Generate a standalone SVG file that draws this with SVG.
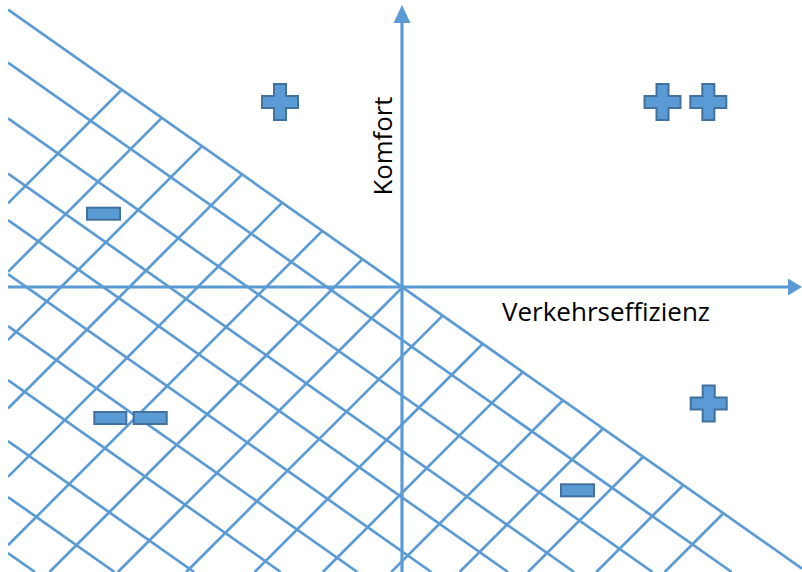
<svg xmlns="http://www.w3.org/2000/svg" width="802" height="572" viewBox="0 0 802 572">
  <style>
    .grid line { stroke: #5B9BD5; stroke-width: 2.7; stroke-linecap: butt; }
    .axis { stroke: #5B9BD5; stroke-width: 3.2; fill: none; }
    .head { fill: #5B9BD5; }
    .sym { fill: #5B9BD5; stroke: #41719C; stroke-width: 2; }
    .label { font-family: "Open Sans", "Liberation Sans", sans-serif; font-size: 26px; fill: #000; }
  </style>
  <defs>
    <path id="plus" d="M-6,-18 H6 V-6 H18 V6 H6 V18 H-6 V6 H-18 V-6 H-6 Z"/>
    <clipPath id="area"><rect x="8" y="0" width="794" height="572"/></clipPath>
  </defs>
  <rect width="802" height="572" fill="#fff"/>

  <!-- hatched region below the diagonal -->
  <g id="hatch" class="grid" clip-path="url(#area)">
    <!-- lines parallel to the boundary diagonal -->
    <line x1="8" y1="9.6" x2="802" y2="568.6"/>
    <line x1="8" y1="62.5" x2="731.7" y2="572"/>
    <line x1="8" y1="118.3" x2="652.5" y2="572"/>
    <line x1="8" y1="173.5" x2="574.1" y2="572"/>
    <line x1="8" y1="220" x2="508" y2="572"/>
    <line x1="8" y1="274" x2="431.3" y2="572"/>
    <line x1="8" y1="326" x2="357.4" y2="572"/>
    <line x1="8" y1="380" x2="280.7" y2="572"/>
    <line x1="8" y1="441" x2="194.1" y2="572"/>
    <line x1="8" y1="497" x2="114.5" y2="572"/>
    <line x1="8" y1="553" x2="35" y2="572"/>
    <!-- crossing lines, starting on the diagonal -->
    <line x1="121.7" y1="89.7" x2="8" y2="203.4"/>
    <line x1="161.8" y1="117.9" x2="8" y2="271.8"/>
    <line x1="202" y1="146.1" x2="8" y2="340.1"/>
    <line x1="242.1" y1="174.4" x2="8" y2="408.5"/>
    <line x1="282.2" y1="202.6" x2="8" y2="476.8"/>
    <line x1="322.3" y1="230.9" x2="8" y2="545.2"/>
    <line x1="362.4" y1="259.1" x2="49.5" y2="572"/>
    <line x1="402.5" y1="287.3" x2="117.9" y2="572"/>
    <line x1="442.6" y1="315.6" x2="186.2" y2="572"/>
    <line x1="482.7" y1="343.8" x2="254.6" y2="572"/>
    <line x1="522.9" y1="372" x2="322.9" y2="572"/>
    <line x1="563" y1="400.3" x2="391.3" y2="572"/>
    <line x1="603.1" y1="428.5" x2="459.6" y2="572"/>
    <line x1="643.2" y1="456.8" x2="528" y2="572"/>
    <line x1="683.3" y1="485" x2="596.3" y2="572"/>
    <line x1="723.4" y1="513.3" x2="664.7" y2="572"/>
  </g>

  <!-- axes -->
  <g id="axes">
    <line class="axis" x1="8" y1="287" x2="790" y2="287"/>
    <polygon class="head" points="788,278.5 802,287 788,295.5"/>
    <line class="axis" x1="402" y1="572" x2="402" y2="21"/>
    <polygon class="head" points="393.5,23 402,5 410.5,23"/>
  </g>

  <g id="label-x"><text class="label" x="502" y="321" textLength="208" lengthAdjust="spacingAndGlyphs">Verkehrseffizienz</text></g>
  <g id="label-y"><text class="label" transform="translate(392 146) rotate(-90)" text-anchor="middle" textLength="99" lengthAdjust="spacingAndGlyphs">Komfort</text></g>

  <!-- ratings -->
  <g id="plus-top-left"><use href="#plus" class="sym" x="280" y="102"/></g>
  <g id="plus-plus-top-right">
    <use href="#plus" class="sym" x="662.5" y="102"/>
    <use href="#plus" class="sym" x="708.3" y="102"/>
  </g>
  <g id="plus-bottom-right"><use href="#plus" class="sym" x="708.7" y="403.5"/></g>
  <g id="minus-top-left"><rect class="sym" x="87" y="207.7" width="33" height="12"/></g>
  <g id="minus-minus-bottom-left">
    <rect class="sym" x="94.3" y="412" width="32" height="12"/>
    <rect class="sym" x="133.7" y="412" width="33" height="12"/>
  </g>
  <g id="minus-bottom-right"><rect class="sym" x="561" y="484.3" width="33" height="12"/></g>
</svg>
